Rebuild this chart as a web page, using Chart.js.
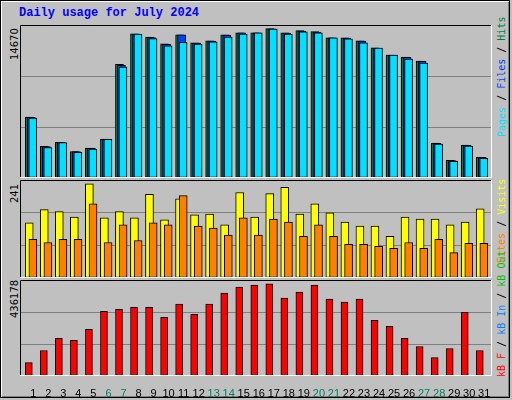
<!DOCTYPE html>
<html><head><meta charset="utf-8">
<script src="https://cdn.jsdelivr.net/npm/chart.js@4/dist/chart.umd.min.js"></script>
<style>
html,body{margin:0;padding:0;}
body{width:512px;height:400px;background:#C0C0C0;position:relative;overflow:hidden;}
#frame{position:absolute;left:0;top:0;width:508px;height:396px;border:1px solid #000;box-shadow:inset 1px 1px 0 #fff, inset -1px -1px 0 #808080;}
canvas{position:absolute;}
.t{position:absolute;white-space:nowrap;}
.rot{position:absolute;transform-origin:0 0;transform:rotate(-90deg);white-space:nowrap;font-family:"DejaVu Sans Mono",monospace;font-size:10px;}
</style></head><body>
<div id="frame"></div>
<div class="t" style="left:19px;top:6px;font:bold 12px 'Liberation Mono',monospace;color:#0000FF;">Daily usage for July 2024</div>
<canvas id="c1" width="472" height="153" style="left:20px;top:25px;width:472px;height:153px"></canvas>
<canvas id="c2" width="472" height="98" style="left:20px;top:180px;width:472px;height:98px"></canvas>
<canvas id="c3" width="474" height="118" style="left:20px;top:280px;width:474px;height:118px"></canvas>
<div class="rot" style="left:9px;top:60px;font-family:'DejaVu Sans',sans-serif;">14670</div>
<div class="rot" style="left:9px;top:203px;font-family:'DejaVu Sans',sans-serif;">241</div>
<div class="rot" style="left:9px;top:318px;font-family:'DejaVu Sans',sans-serif;">436178</div>
<div class="rot" style="left:496px;top:137px;"><span style="color:#00E0FF">Pages</span> / <span style="color:#0040FF">Files</span> / <span style="color:#008040">Hits</span></div>
<div class="rot" style="left:496px;top:263px;"><span style="color:#FF8000">Sites</span> / <span style="color:#FFFF00">Visits</span></div>
<div class="rot" style="left:496px;top:377px;"><span style="color:#FF0000">kB F</span> / <span style="color:#0080FF">kB In</span> / <span style="color:#00C000">kB Out</span></div>
<script>
const days = Array.from({length:31},(_,i)=>i+1);
const weekendDays = [6,7,13,14,20,21,27,28];
const hits  = [5988,3103,3501,2606,2934,3829,11159,14173,13845,13178,14073,13281,13477,14073,14272,14272,14670,14272,14471,14372,13775,13775,13477,12780,12084,11885,11488,3431,1741,3232,2039];
const files = [5960,3080,3490,2590,2910,3800,11060,14150,13800,13140,14073,13250,13450,14030,14250,14260,14660,14240,14440,14340,13760,13750,13440,12770,12080,11850,11460,3410,1720,3210,2020];
const pages = [5890,3000,3480,2510,2840,3810,10890,14150,13690,12980,13330,13150,13380,13850,14150,14260,14640,14150,14370,14250,13760,13670,13280,12770,12080,11690,11280,3320,1640,3140,1940];
const visits = [141,175,170,156,241,154,170,154,214,149,203,162,164,136,219,156,216,232,164,190,167,143,133,133,107,156,151,151,136,143,177];
const sites  = [99,91,99,99,190,91,136,96,141,136,211,133,128,110,154,110,151,143,107,136,107,86,86,81,76,91,76,99,65,89,89];
const kbytes = [63440,120536,177632,168116,220454,306098,315614,325130,325130,277550,339404,291824,339404,391742,420290,429806,436178,367952,396500,429806,363194,348920,363194,263276,234728,177632,139568,87230,130052,301340,120536];

const borderPlugin = {id:'bevel', afterDatasetsDraw(ch){const a=ch.chartArea,c=ch.ctx;c.save();c.lineWidth=1;
 c.strokeStyle='#000';c.beginPath();c.moveTo(a.left+0.5,a.bottom);c.lineTo(a.left+0.5,a.top+0.5);c.lineTo(a.right,a.top+0.5);c.stroke();
 c.strokeStyle='#fff';c.beginPath();c.moveTo(a.right-0.5,a.top);c.lineTo(a.right-0.5,a.bottom-0.5);c.lineTo(a.left,a.bottom-0.5);c.stroke();c.restore();}};

function ds(vals, off, color, w, ord){return {data:days.map((d,i)=>({x:d+off,y:vals[i]})),backgroundColor:color,borderColor:'#000',borderWidth:1,borderSkipped:false,barThickness:w,grouped:false,order:ord};}
function make(id, datasets, max, showX){
 return new Chart(document.getElementById(id),{type:'bar',data:{datasets},plugins:[borderPlugin],
  options:{responsive:false,animation:false,devicePixelRatio:1,layout:{padding:{left:0,right:showX?2:0}},
   plugins:{legend:{display:false},tooltip:{enabled:false}},
   scales:{
    x:{type:'linear',min:0.2667,max:31.667,offset:false,display:showX,grid:{display:false},border:{display:false},
      afterBuildTicks(s){s.ticks=days.map(v=>({value:v+0.15}));},
      afterFit(s){if(showX)s.height=22;},
      ticks:{autoSkip:false,maxRotation:0,padding:3,font:{family:'Liberation Sans',size:11},
        color:c=>weekendDays.includes(Math.round(c.tick.value))?'#008060':'#000',callback:v=>String(Math.round(v))}},
    y:{min:0,max:max,afterFit(s){s.width=0;},border:{display:false},
      ticks:{display:false,stepSize:max/3},
      grid:{drawTicks:false,color:c=>(c.tick.value>0&&c.tick.value<max)?'#808080':'rgba(0,0,0,0)'}}
   }}});
}
make('c1',[ds(hits,-0.117,'#008040',8,3),ds(files,0.017,'#0040FF',8,2),ds(pages,0.117,'#00E0FF',8,1)],15030,false);
make('c2',[ds(visits,-0.12,'#FFFF00',8,2),ds(sites,0.125,'#FF8000',8,1)],251,false);
make('c3',[ds(kbytes,-0.147,'#FF0000',7,1)],453777,true);
</script>
</body></html>
